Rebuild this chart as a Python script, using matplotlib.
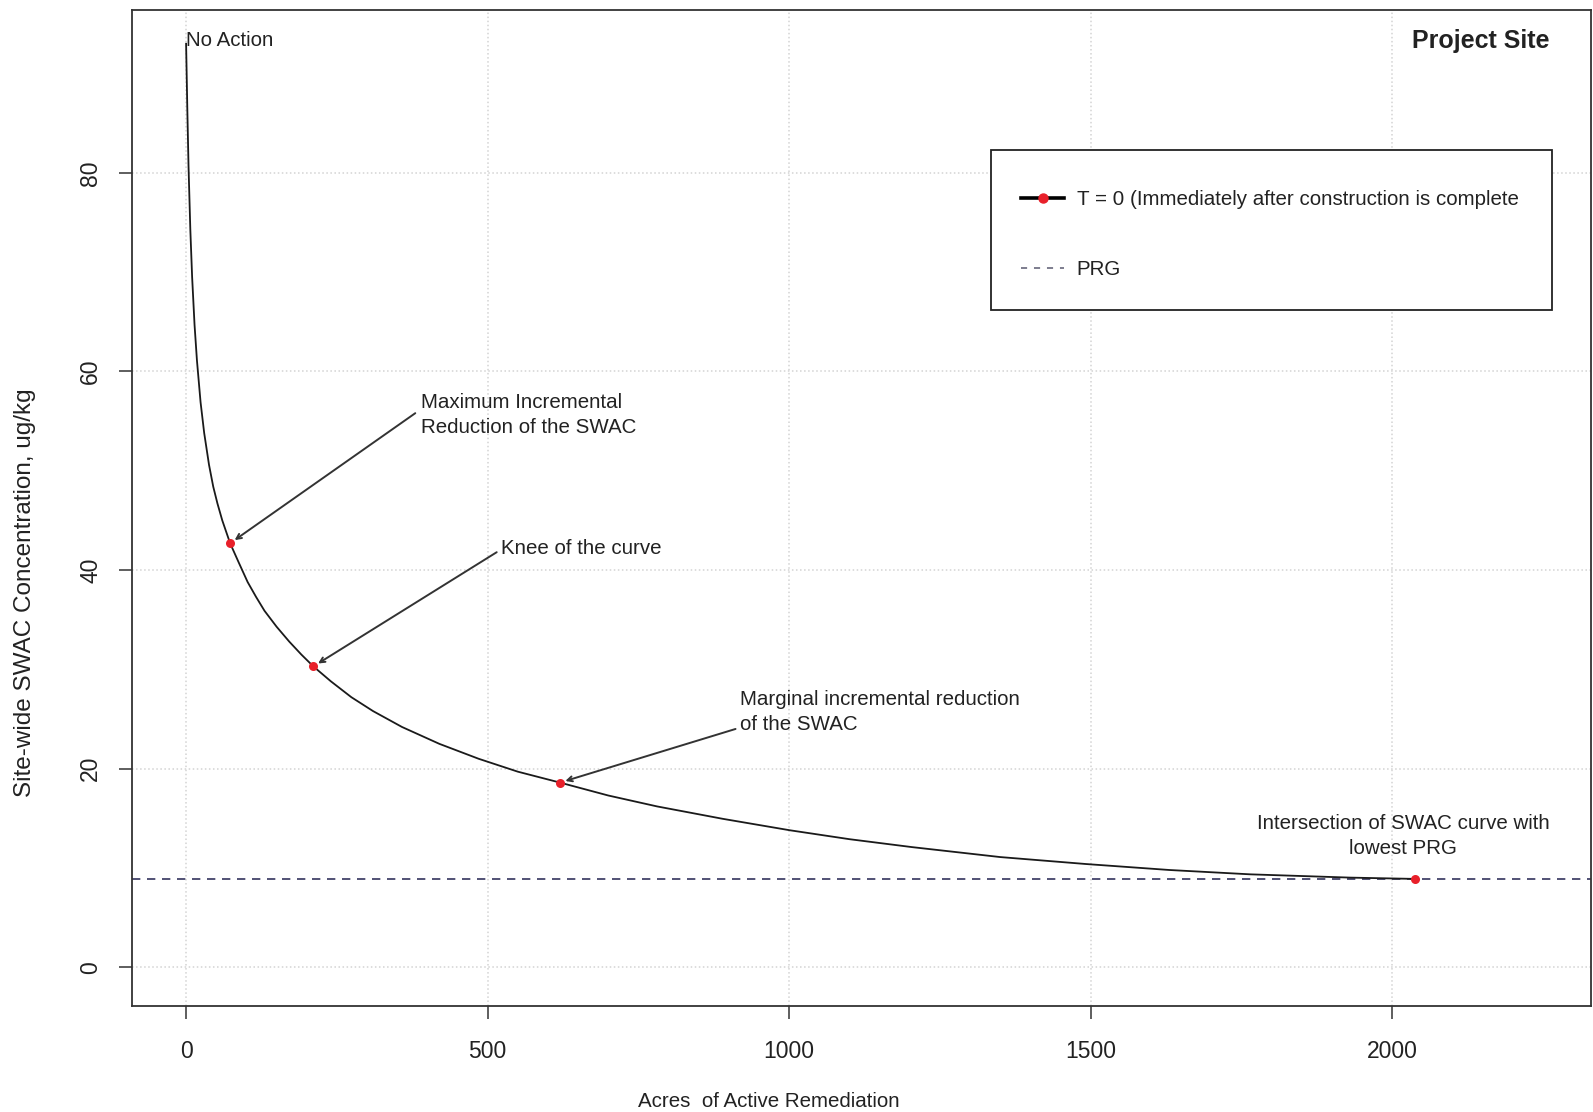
import numpy as np
import matplotlib.pyplot as plt
from matplotlib.lines import Line2D
from matplotlib.patches import Rectangle

plt.rcParams['font.family'] = ['Liberation Sans', 'DejaVu Sans']

# SWAC curve
acres = [0, 2, 4, 7, 10, 14, 18, 24, 30, 38, 45, 52, 60, 73, 87, 102, 116,
         130, 150, 171, 191, 211, 240, 274, 310, 358, 420, 485, 550, 620,
         700, 781, 890, 1001, 1100, 1204, 1350, 1492, 1630, 1765, 1931, 2038]
swac = [93, 86.5, 80.7, 74.3, 69.5, 64.7, 61.1, 56.9, 53.8, 50.6, 48.4, 46.7,
        45.0, 42.7, 40.8, 38.8, 37.3, 35.9, 34.3, 32.8, 31.5, 30.3, 28.8,
        27.2, 25.8, 24.2, 22.5, 21.0, 19.7, 18.6, 17.3, 16.2, 14.95, 13.8,
        12.9, 12.1, 11.1, 10.4, 9.8, 9.36, 9.03, 8.9]

# highlighted points on the curve
key_acres = [73, 211, 620, 2038]
key_swac = [42.7, 30.3, 18.6, 8.9]

prg = 8.9

x_ticks = [0, 500, 1000, 1500, 2000]
y_ticks = [0, 20, 40, 60, 80]

ink = '#222222'

fig = plt.figure(figsize=(15.93, 11.12), dpi=100)
ax = fig.add_axes([0.0829, 0.0953, 0.9159, 0.8957])

ax.set_xlim(-89.6, 2329.6)
ax.set_ylim(-3.9, 96.4)
ax.set_xticks(x_ticks)
ax.set_yticks(y_ticks)
ax.grid(color='#d3d3d3', linestyle=':', linewidth=1.1)
ax.set_axisbelow(True)

for s in ax.spines.values():
    s.set_color('#333333')
    s.set_linewidth(1.3)

ax.tick_params(axis='both', direction='out', length=9.5, width=1.1,
               color='#333333', labelsize=16.5, labelcolor=ink)
ax.tick_params(axis='x', pad=15)
ax.tick_params(axis='y', pad=12, labelrotation=90)
for lab in ax.get_yticklabels():
    lab.set_va('center')

# curve, PRG line and key points
ax.axhline(prg, color='#34345e', linestyle=(0, (5, 4)), linewidth=1.2)
ax.plot(acres, swac, color='#1a1a1a', linewidth=1.3)
ax.plot(key_acres, key_swac, 'o', color='#e8202a', markersize=6.5,
        markeredgewidth=0)

# annotations
fs = 14.8
ax.text(0, 93.3, 'No Action', fontsize=fs, color=ink, ha='left', va='center')

notes = [
    ('Maximum Incremental\nReduction of the SWAC', 389, 55.6, 380, 55.8),
    ('Knee of the curve', 522, 42.2, 515, 41.8),
    ('Marginal incremental reduction\nof the SWAC', 918, 25.7, 911, 24.0),
]
for (txt, tx, ty, ax0, ay0), kx, ky in zip(notes, key_acres, key_swac):
    ax.text(tx, ty, txt, fontsize=fs, color=ink, ha='left', va='center',
            linespacing=1.38)
    ax.annotate('', xy=(kx, ky), xytext=(ax0, ay0),
                arrowprops=dict(arrowstyle='->', color='#333333', lw=1.4,
                                shrinkA=0, shrinkB=4, mutation_scale=9))

ax.text(2018, 13.2, 'Intersection of SWAC curve with\nlowest PRG', fontsize=fs,
        color=ink, ha='center', va='center', linespacing=1.38)

ax.text(0.9715, 0.969, 'Project Site', transform=ax.transAxes, fontsize=18,
        fontweight='bold', color=ink, ha='right', va='center')

# legend: frame drawn as its own box, entries placed inside it
ax.add_patch(Rectangle((0.5885, 0.699), 0.3844, 0.16, transform=ax.transAxes,
                       facecolor='white', edgecolor='#222222', linewidth=1.3,
                       zorder=4))
handles = [
    Line2D([], [], color='black', linewidth=2.6, marker='o',
           markerfacecolor='#e8202a', markeredgecolor='#e8202a', markersize=6.5),
    Line2D([], [], color='#5a5a70', linewidth=1.1, linestyle=(0, (4, 4.5))),
]
labels = ['T = 0 (Immediately after construction is complete', 'PRG']
leg = ax.legend(handles, labels, loc='upper left',
                bbox_to_anchor=(0.6093, 0.8194), borderaxespad=0,
                borderpad=0, fontsize=fs, frameon=False,
                labelspacing=2.5, handlelength=2.1, handletextpad=0.6,
                numpoints=1)
leg.set_zorder(5)
for t in leg.get_texts():
    t.set_color(ink)

ax.set_xlabel('Acres  of Active Remediation', fontsize=14.8, color=ink)
ax.xaxis.set_label_coords((769 - 132) / 1459, (1006 - 1101) / 996)
ax.xaxis.label.set_va('center')
ax.set_ylabel('Site-wide SWAC Concentration, ug/kg', fontsize=17.5, color=ink)
ax.yaxis.set_label_coords((25 - 132) / 1459, (1006 - 593) / 996)
ax.yaxis.label.set_va('center')

fig.savefig('out.png', dpi=100)
